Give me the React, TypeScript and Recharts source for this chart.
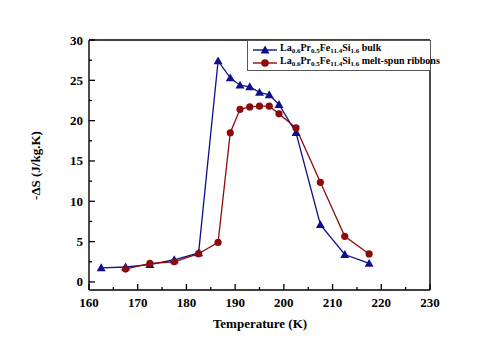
import React from "react";
import { Line, LineChart, ReferenceLine, XAxis, YAxis } from "recharts";

// temperatures (K) and -ΔS values (J/kg.K)
const bulkTemps = [162.5, 167.5, 172.5, 177.5, 182.5, 186.5, 189, 191, 193, 195, 197, 199, 202.5, 207.5, 212.5, 217.5];
const bulkDS = [1.75, 1.85, 2.15, 2.75, 3.6, 27.4, 25.3, 24.4, 24.2, 23.5, 23.2, 22.0, 18.5, 7.1, 3.4, 2.3];

const ribbonTemps = [167.5, 172.5, 177.5, 182.5, 186.5, 189, 191, 193, 195, 197, 199, 202.5, 207.5, 212.5, 217.5];
const ribbonDS = [1.6, 2.3, 2.5, 3.5, 4.9, 18.5, 21.4, 21.7, 21.8, 21.8, 20.85, 19.1, 12.35, 5.65, 3.47];

const xTicks = [160, 165, 170, 175, 180, 185, 190, 195, 200, 205, 210, 215, 220, 225, 230];
const yTicks = [0, 2.5, 5, 7.5, 10, 12.5, 15, 17.5, 20, 22.5, 25, 27.5, 30];

const BLUE = "#10108c";
const RED = "#8c0c0c";
const FONT = "Liberation Serif, Times New Roman, serif";

const bulkData = bulkTemps.map((t, i) => ({ T: t, v: bulkDS[i] }));
const ribbonData = ribbonTemps.map((t, i) => ({ T: t, v: ribbonDS[i] }));

const Triangle = (props: any) => {
  const { cx, cy, fill } = props;
  if (cx == null || cy == null) return null;
  const s = 4.5;
  return (
    <polygon
      points={`${cx},${cy - s} ${cx - s},${cy + s * 0.75} ${cx + s},${cy + s * 0.75}`}
      fill={fill}
    />
  );
};

const XTick = (props: any) => {
  const { x, y, payload } = props;
  const major = payload.value % 10 === 0;
  return (
    <g>
      <path d={`M${x},${y}V${y - (major ? 6 : 3)}`} stroke="#000" strokeWidth={1.3} fill="none" />
      {major && (
        <text x={x} y={y + 17} textAnchor="middle" fontFamily={FONT} fontWeight="bold" fontSize={13} fill="#000">
          {payload.value}
        </text>
      )}
    </g>
  );
};

const YTick = (props: any) => {
  const { x, y, payload } = props;
  const major = payload.value % 5 === 0;
  return (
    <g>
      <path d={`M${x},${y}H${x + (major ? 6 : 3)}`} stroke="#000" strokeWidth={1.3} fill="none" />
      {major && (
        <text x={x - 6} y={y + 4.5} textAnchor="end" fontFamily={FONT} fontWeight="bold" fontSize={13} fill="#000">
          {payload.value}
        </text>
      )}
    </g>
  );
};

const titleStyle: React.CSSProperties = {
  position: "absolute",
  fontFamily: FONT,
  fontWeight: "bold",
  fontSize: 13,
  color: "#000",
  whiteSpace: "nowrap",
  lineHeight: "15px",
};

const sub = { fontSize: 7, verticalAlign: "-2px" };

const Formula = () => (
  <span>
    La<span style={sub}>0.6</span>Pr<span style={sub}>0.5</span>Fe<span style={sub}>11.4</span>Si
    <span style={sub}>1.6</span>
  </span>
);

const LegendBox = () => {
  const row = (color: string, marker: "tri" | "dot", label: string) => (
    <div style={{ display: "flex", alignItems: "center", height: 13 }}>
      <svg width={26} height={12} style={{ marginRight: 2, overflow: "visible" }}>
        <line x1={1} x2={25} y1={6} y2={6} stroke={color} strokeWidth={1.4} />
        {marker === "tri" ? (
          <polygon points="13,1.5 8.5,9.5 17.5,9.5" fill={color} />
        ) : (
          <circle cx={13} cy={6} r={3.8} fill={color} />
        )}
      </svg>
      <span style={{ whiteSpace: "nowrap" }}>
        <Formula /> {label}
      </span>
    </div>
  );
  return (
    <div
      style={{
        position: "absolute",
        top: 40,
        left: 247,
        border: "1px solid #555",
        background: "#fff",
        padding: "2px 4px",
        boxSizing: "border-box",
        width: 184,
        height: 31,
        fontFamily: FONT,
        fontWeight: "bold",
        fontSize: 10,
        lineHeight: "12px",
        color: "#000",
      }}
    >
      {row(BLUE, "tri", "bulk")}
      {row(RED, "dot", "melt-spun ribbons")}
    </div>
  );
};

export default function App() {
  return (
    <div style={{ width: 500, height: 349, margin: -8, position: "relative", background: "#fff" }}>
      <LineChart width={500} height={349} margin={{ top: 39, right: 70, bottom: 0, left: 0 }}>
        <XAxis
          dataKey="T"
          type="number"
          domain={[160, 230]}
          ticks={xTicks}
          interval={0}
          height={59}
          tickSize={0}
          tickMargin={0}
          tick={<XTick />}
          axisLine={{ stroke: "#000", strokeWidth: 1.4 }}
          tickLine={false}
        />
        <XAxis
          xAxisId="top"
          orientation="top"
          dataKey="T"
          type="number"
          domain={[160, 230]}
          height={1}
          tick={false}
          tickLine={false}
          axisLine={{ stroke: "#000", strokeWidth: 1.4 }}
        />
        <YAxis
          type="number"
          domain={[-1, 30]}
          ticks={yTicks}
          interval={0}
          width={89}
          tickSize={0}
          tickMargin={0}
          tick={<YTick />}
          axisLine={{ stroke: "#000", strokeWidth: 1.4 }}
          tickLine={false}
        />
        <ReferenceLine x={230} stroke="#000" strokeWidth={1.4} ifOverflow="visible" />
        <Line
          data={bulkData}
          dataKey="v"
          name="bulk"
          stroke={BLUE}
          strokeWidth={1.3}
          dot={<Triangle fill={BLUE} />}
          isAnimationActive={false}
        />
        <Line
          data={ribbonData}
          dataKey="v"
          name="ribbon"
          stroke={RED}
          strokeWidth={1.3}
          dot={{ r: 3.6, fill: RED, stroke: RED, strokeWidth: 0 }}
          isAnimationActive={false}
        />
      </LineChart>
      <div style={{ ...titleStyle, left: 160, width: 200, top: 316, textAlign: "center" }}>Temperature (K)</div>
      <div
        style={{
          ...titleStyle,
          left: 35 - 60,
          top: 165 - 7.5,
          width: 120,
          textAlign: "center",
          transform: "rotate(-90deg)",
        }}
      >
        -ΔS (J/kg.K)
      </div>
      <LegendBox />
    </div>
  );
}
